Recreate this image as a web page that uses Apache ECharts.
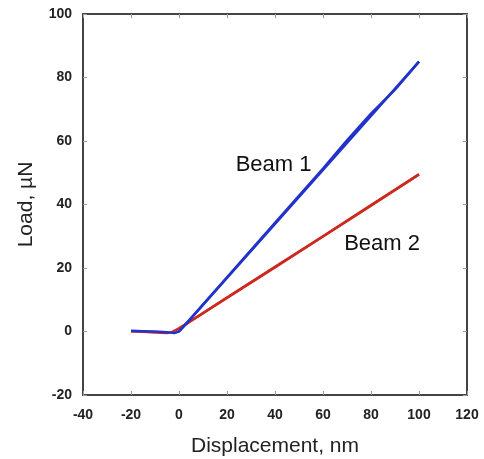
<!DOCTYPE html>
<html>
<head>
    <meta charset="UTF-8">
    <script src="https://cdn.jsdelivr.net/npm/echarts@6/dist/echarts.min.js"></script>
    <style>
        html, body { margin: 0; padding: 0; background: #fff; }
        #chart { width: 484px; height: 459px; }
    </style>
</head>
<body>
<div id="chart"></div>
<script>
    // Beam 1: loading then unloading (displacement nm, load µN)
    const beam1Up = [[-20, 0.2], [-15, 0.1], [-10, 0], [-5, -0.2], [-2, -0.5], [0, 0], [2, 1.6], [5, 4.1],
        [10, 8.4], [20, 16.9], [40, 33.9], [60, 50.9], [80, 67.9], [100, 85]];
    const beam1Down = [[100, 85], [90, 76.2], [80, 68.6], [70, 60.2], [60, 51.3], [40, 34.2], [20, 17.1], [5, 4.2], [0, 0]];
    // Beam 2
    const beam2Up = [[-20, 0], [-15, -0.1], [-10, -0.3], [-5, -0.5], [-3, -0.2], [0, 1], [5, 3.4],
        [20, 10.7], [40, 20.4], [60, 30], [80, 39.8], [100, 49.5]];
    const beam2Down = [[100, 49.5], [80, 39.6], [60, 29.9], [40, 20.2], [20, 10.6], [5, 3.3], [0, 0.9]];

    const xTicks = {min: -40, max: 120, step: 20};
    const yTicks = {min: -20, max: 100, step: 20};
    const labels = [
        {name: 'Beam 1', coord: [39.4, 52.4]},
        {name: 'Beam 2', coord: [84.6, 27.6]}
    ];

    const blue = '#2233cc';
    const red = '#cc2a1e';
    const axisColor = '#444';

    function axisBase(t) {
        return {
            type: 'value',
            min: t.min,
            max: t.max,
            interval: t.step,
            axisLine: {show: true, onZero: false, lineStyle: {color: axisColor, width: 2}},
            axisTick: {show: true, inside: true, length: 4, lineStyle: {color: '#999', width: 1}},
            splitLine: {show: false}
        };
    }

    const chart = echarts.init(document.getElementById('chart'));
    const labelStyle = {fontFamily: 'Liberation Sans, Arial', fontWeight: 'bold', fontSize: 14, color: '#222'};
    const nameStyle = {fontFamily: 'Liberation Sans, Arial', fontSize: 21, color: '#222'};

    const xMain = Object.assign(axisBase(xTicks), {
        position: 'bottom',
        name: 'Displacement, nm',
        nameLocation: 'middle',
        nameGap: 41,
        nameTextStyle: nameStyle,
        axisLabel: Object.assign({margin: 13}, labelStyle)
    });
    const xTop = Object.assign(axisBase(xTicks), {position: 'top', axisLabel: {show: false}});
    const yMain = Object.assign(axisBase(yTicks), {
        position: 'left',
        name: 'Load, µN',
        nameLocation: 'middle',
        nameGap: 46,
        nameTextStyle: nameStyle,
        axisLabel: Object.assign({margin: 11}, labelStyle)
    });
    const yRight = Object.assign(axisBase(yTicks), {position: 'right', axisLabel: {show: false}});

    function lineSeries(data, color, withLabels) {
        const s = {
            type: 'line',
            data: data,
            showSymbol: false,
            smooth: false,
            lineStyle: {color: color, width: 2.5},
            itemStyle: {color: color},
            z: color === blue ? 3 : 2
        };
        if (withLabels) {
            s.markPoint = {
                symbol: 'circle',
                symbolSize: 0,
                label: {show: true, position: 'inside', fontFamily: 'Liberation Sans, Arial', fontSize: 22, color: '#111',
                    formatter: function (p) { return p.name; }},
                data: withLabels.map(function (l) { return {name: l.name, coord: l.coord}; })
            };
        }
        return s;
    }

    chart.setOption({
        animation: false,
        grid: {left: 83, right: 17, top: 14, bottom: 64, outerBoundsMode: 'none', containLabel: false},
        xAxis: [xMain, xTop],
        yAxis: [yMain, yRight],
        series: [
            lineSeries(beam2Up, red, null),
            lineSeries(beam2Down, red, null),
            lineSeries(beam1Up, blue, labels),
            lineSeries(beam1Down, blue, null)
        ]
    });
</script>
</body>
</html>
